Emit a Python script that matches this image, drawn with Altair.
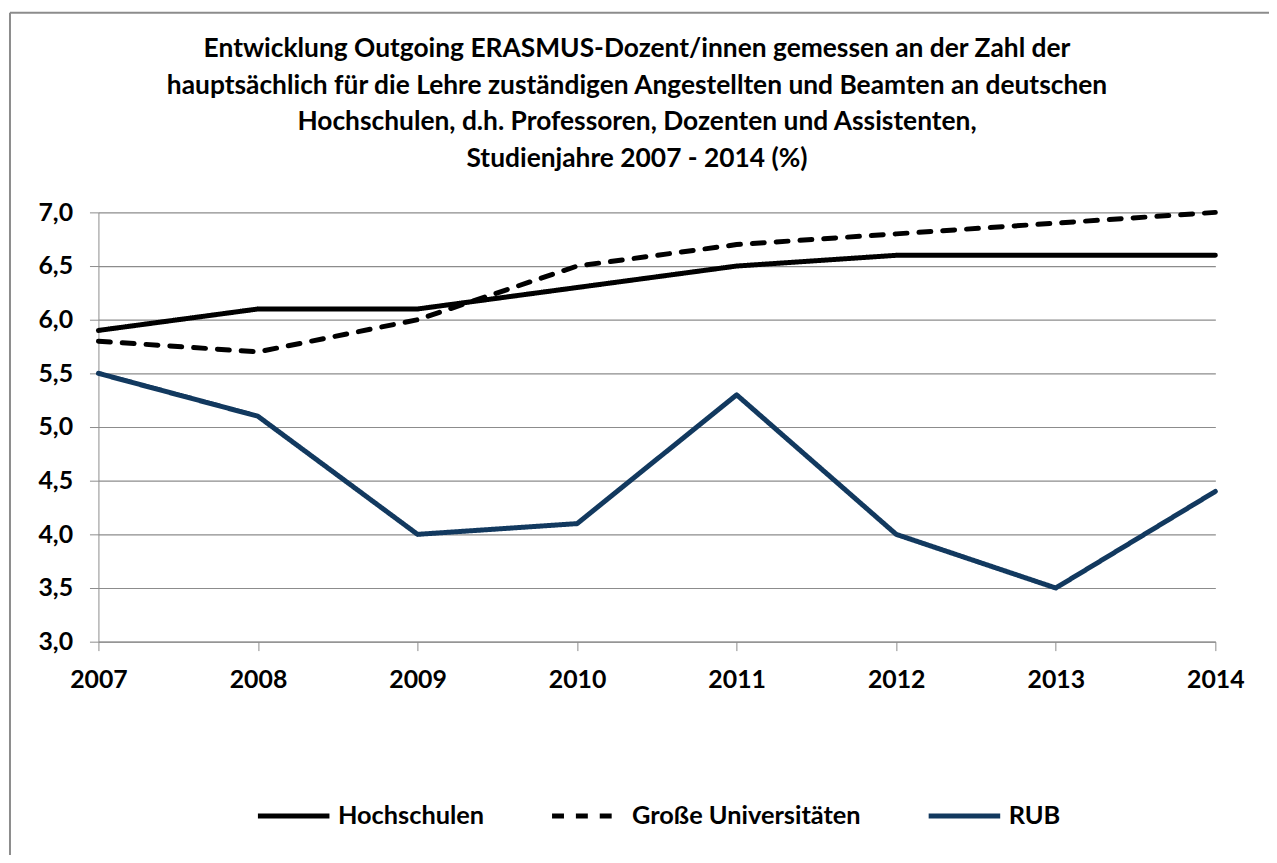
import altair as alt
import pandas as pd

years = [2007, 2008, 2009, 2010, 2011, 2012, 2013, 2014]
hochschulen = [5.9, 6.1, 6.1, 6.3, 6.5, 6.6, 6.6, 6.6]
grosse_unis = [5.8, 5.7, 6.0, 6.5, 6.7, 6.8, 6.9, 7.0]
rub = [5.5, 5.1, 4.0, 4.1, 5.3, 4.0, 3.5, 4.4]
series_names = ["Hochschulen", "Große Universitäten", "RUB"]
series_colors = ["#000000", "#000000", "#12395F"]
series_dashes = [[1, 0], [12, 12], [1, 0]]
y_ticks = [3.0, 3.5, 4.0, 4.5, 5.0, 5.5, 6.0, 6.5, 7.0]
title_lines = [
    "Entwicklung Outgoing ERASMUS-Dozent/innen gemessen an der Zahl der",
    "hauptsächlich für die Lehre zuständigen Angestellten und Beamten an deutschen",
    "Hochschulen, d.h. Professoren, Dozenten und Assistenten,",
    "Studienjahre 2007 - 2014 (%)",
]

rows = []
for name, vals in zip(series_names, [hochschulen, grosse_unis, rub]):
    for yr, v in zip(years, vals):
        rows.append({"Jahr": yr, "Wert": v, "Reihe": name})
df = pd.DataFrame(rows)

FONT = "Lato"
GRAY = "#8C8C8C"

lines = alt.Chart(df).mark_line(strokeWidth=5, strokeCap="round", strokeJoin="round").encode(
    x=alt.X("Jahr:Q", scale=alt.Scale(domain=[2007, 2014], nice=False, zero=False),
            axis=alt.Axis(values=years, format="d", title=None, grid=False,
                          domainColor=GRAY, tickColor=GRAY, tickSize=9,
                          labelPadding=17, labelFontSize=25, labelFont=FONT,
                          labelFontWeight="bold", labelColor="#000000",
                          labelFlush=False)),
    y=alt.Y("Wert:Q", scale=alt.Scale(domain=[3, 7], nice=False, zero=False),
            axis=alt.Axis(values=y_ticks, format=".1f",
                          labelExpr="replace(datum.label, '.', ',')",
                          title=None, grid=True, gridColor=GRAY, gridWidth=1.2,
                          domainColor=GRAY, tickColor=GRAY, tickSize=9,
                          labelPadding=17, labelFontSize=25, labelFont=FONT,
                          labelFontWeight="bold", labelColor="#000000")),
    color=alt.Color("Reihe:N", scale=alt.Scale(domain=series_names, range=series_colors),
                    legend=alt.Legend(title=None, orient="none", direction="horizontal",
                                      columns=3, legendX=158, legendY=569,
                                      symbolType="stroke", symbolSize=5184,
                                      symbolStrokeWidth=5, labelOffset=6,
                                      columnPadding=57, labelFontSize=25.5,
                                      labelFont=FONT, labelFontWeight="bold",
                                      labelColor="#000000", labelLimit=400)),
    strokeDash=alt.StrokeDash("Reihe:N", scale=alt.Scale(domain=series_names, range=series_dashes),
                              legend=alt.Legend(title=None, orient="none")),
)

single = pd.DataFrame({"k": [0]})

title_text = alt.Chart(single).mark_text(
    font=FONT, fontSize=26.5, fontWeight="bold", color="#000000",
    align="center", baseline="middle", lineHeight=36.7,
).encode(x=alt.value(542), y=alt.value(-164), text=alt.value(title_lines))

frame_left = alt.Chart(single).mark_rule(color=GRAY, strokeWidth=2).encode(
    x=alt.value(-89), y=alt.value(-201), y2=alt.value(700))
frame_top = alt.Chart(single).mark_rule(color=GRAY, strokeWidth=2).encode(
    x=alt.value(-89), x2=alt.value(1250), y=alt.value(-201))

chart = alt.layer(lines, title_text, frame_left, frame_top).properties(
    width=1124, height=432,
    padding={"left": 91, "top": 203, "right": 54, "bottom": 212},
    autosize=alt.AutoSizeParams(type="none"),
).configure_view(stroke=None)

chart.save("out.html", embed_options={"renderer": "svg", "actions": False})
